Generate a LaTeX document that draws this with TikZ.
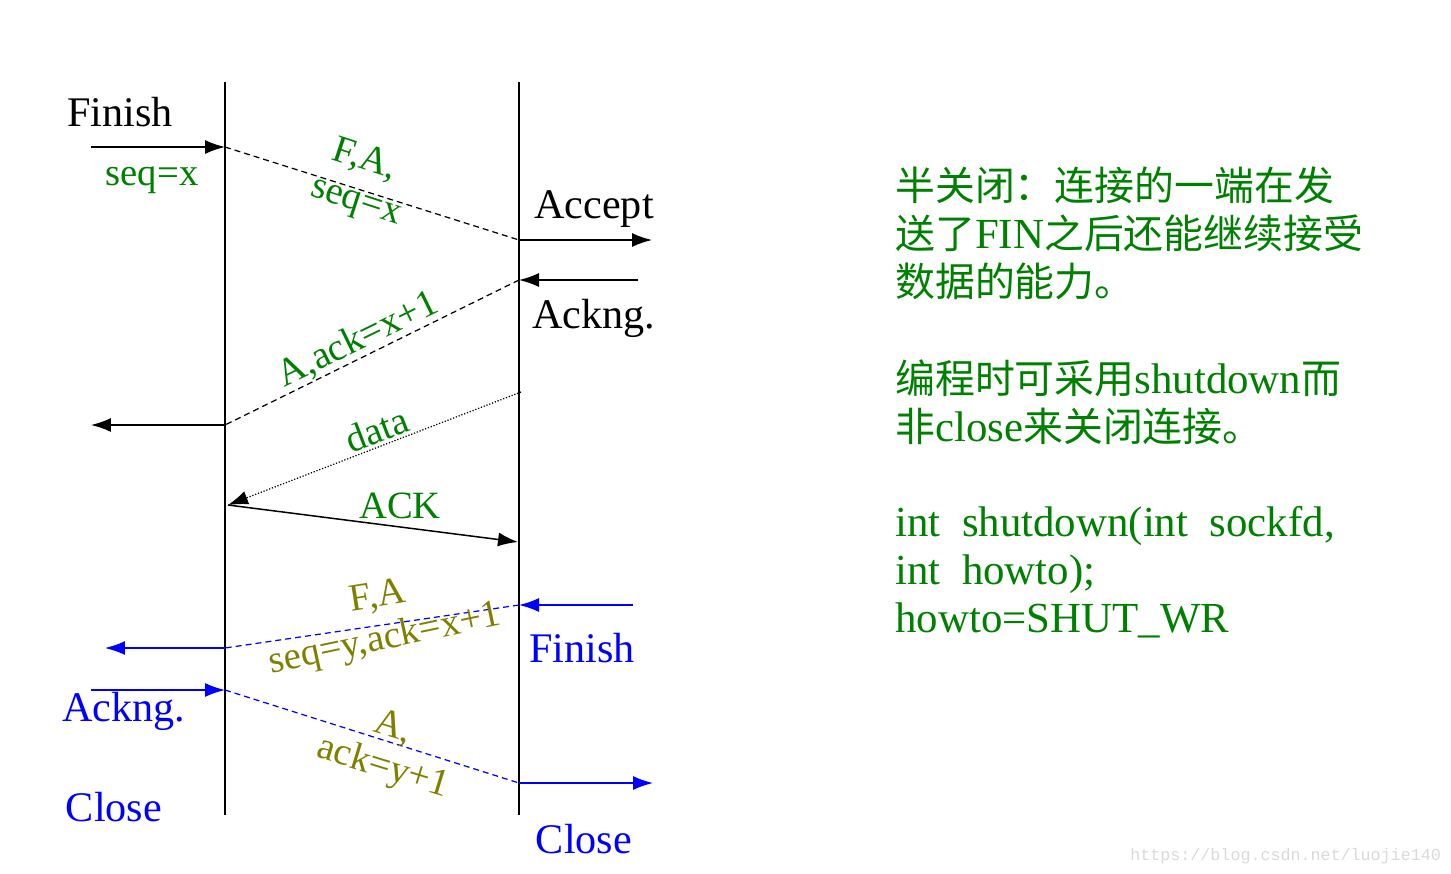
\documentclass[tikz,border=0pt]{standalone}
\usepackage{fontspec}
\setmainfont{Liberation Serif}
\setmonofont{Liberation Mono}
\newfontfamily\cjk[Scale=0.93]{Noto Sans CJK SC}
\usetikzlibrary{arrows.meta}
\definecolor{msggreen}{RGB}{0,128,0}
\definecolor{msgolive}{RGB}{128,128,0}
\newcommand{\zh}[1]{{\cjk #1}}

\begin{document}
\begin{tikzpicture}[x = 0.02cm, y = -0.02cm,
  >={Latex[length=4mm, width=2.8mm]},
  every node/.style = {inner sep=0pt},
  big/.style = {font=\fontsize{24}{28}\selectfont},
  lbl/.style = {font=\fontsize{22}{26}\selectfont, text=msggreen},
  olbl/.style = {lbl, text=msgolive},
  note/.style = {font=\fontsize{24.4}{27.2}\selectfont, text=msggreen, align=left, anchor=base west},
  lifeline/.style = {line width=1.1pt},
  sig/.style = {->, line width=0.85pt},
  seg/.style = {line width=0.7pt, dash pattern=on 3.4pt off 2.3pt}
]
\useasboundingbox (0,0) rectangle (1451,873);

% life lines
\coordinate (A0) at (225,82);
\coordinate (A1) at (225,815);
\coordinate (B0) at (519,82);
\coordinate (B1) at (519,815);
\draw[lifeline] (A0) -- (A1);
\draw[lifeline] (B0) -- (B1);

% event points
\coordinate (finIn) at (91,147);
\coordinate (fin) at (225,147);
\coordinate (acc) at (519,240);
\coordinate (accOut) at (652,240);
\coordinate (ackBIn) at (638,280);
\coordinate (ackB) at (519,280);
\coordinate (ackA) at (225,425);
\coordinate (ackAOut) at (91,425);
\coordinate (dataB) at (521,392);
\coordinate (dataA) at (228,505);
\coordinate (ackK) at (518,542);
\coordinate (fin2BIn) at (633,605);
\coordinate (fin2B) at (519,605);
\coordinate (fin2A) at (225,648);
\coordinate (fin2AOut) at (105,648);
\coordinate (ack2In) at (91,690);
\coordinate (ack2A) at (225,690);
\coordinate (ack2B) at (519,783);
\coordinate (ack2BOut) at (653,783);

% first half: client closes
\draw[sig] (finIn) -- (fin);
\draw[seg] (fin) -- (acc);
\draw[sig] (acc) -- (accOut);
\draw[sig] (ackBIn) -- (ackB);
\draw[seg] (ackB) -- (ackA);
\draw[sig] (ackA) -- (ackAOut);
\draw[->, line width=0.7pt, densely dotted] (dataB) -- (dataA);
\draw[sig] (dataA) -- (ackK);

% second half: server closes
\draw[sig, blue] (fin2BIn) -- (fin2B);
\draw[seg, blue] (fin2B) -- (fin2A);
\draw[sig, blue] (fin2A) -- (fin2AOut);
\draw[sig, blue] (ack2In) -- (ack2A);
\draw[seg, blue] (ack2A) -- (ack2B);
\draw[sig, blue] (ack2B) -- (ack2BOut);

% state labels
\node[big] (finishA) at (120,112) {Finish};
\node[lbl] (seqx) at (152,180) {seq=x};
\node[big] (accept) at (594,209) {Accept};
\node[big] (ackngB) at (594,318) {Ackng.};
\node[big, text=blue] (finishB) at (582,648) {Finish};
\node[big, text=blue] (ackngA) at (124,711) {Ackng.};
\node[big, text=blue] (closeA) at (114,807) {Close};
\node[big, text=blue] (closeB) at (584,839) {Close};

% segment labels
\node[lbl, rotate=-18] (fa1) at (365,160) {F,A,};
\node[lbl, rotate=-18] (seq1) at (355,205) {seq=x};
\node[lbl, rotate=26] (ack1) at (358,340) {A,ack=x+1};
\node[lbl, rotate=21] (dataLbl) at (377,430) {data};
\node[lbl] (ackLbl) at (400,506) {ACK};
\node[olbl, rotate=9] (fa2) at (378,597) {F,A};
\node[olbl, rotate=12] (seq2) at (385,640) {seq=y,ack=x+1};
\node[olbl, rotate=-17] (a2) at (393,728) {A,};
\node[olbl, rotate=-17] (ack2) at (383,768) {ack=y+1};

% notes (base is the last line)
\node[note] (note1) at (895,296) {\zh{半关闭：连接的一端在发}\\\zh{送了}FIN\zh{之后还能继续接受}\\\zh{数据的能力。}};
\node[note] (note2) at (895,441) {\zh{编程时可采用}shutdown\zh{而}\\\zh{非}close\zh{来关闭连接。}};
\node[note] (note3) at (895,632) {int~~shutdown(int~~sockfd,\\int~~howto);\\howto=SHUT\_WR};

\node[font=\ttfamily\fontsize{9.5}{11}\selectfont, text=gray!30, anchor=base west] (mark) at (1130,860) {https://blog.csdn.net/luojie140};

\end{tikzpicture}
\end{document}
